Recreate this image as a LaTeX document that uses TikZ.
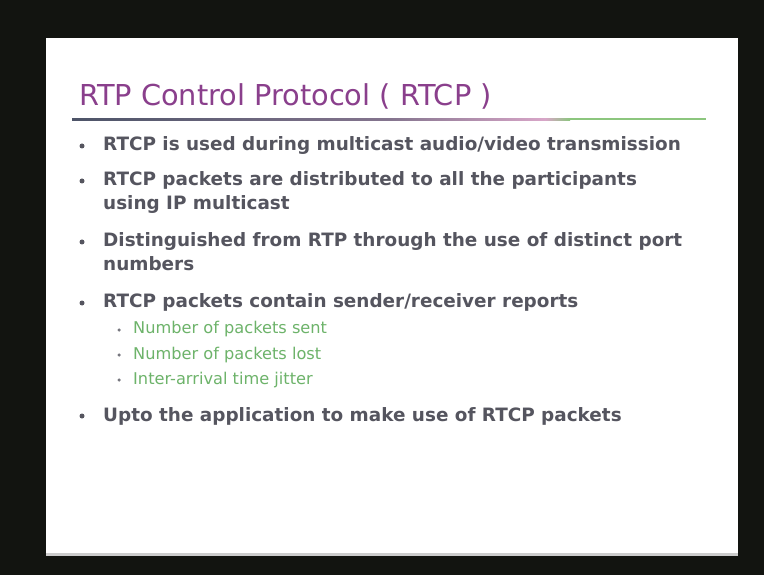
\documentclass[tikz,border=0pt]{standalone}
\usepackage{fontspec}
\setmainfont{DejaVu Sans}
\definecolor{bgdark}{HTML}{121410}
\definecolor{titlepurple}{HTML}{8A3F8C}
\definecolor{bodygray}{HTML}{55555F}
\definecolor{subgreen}{HTML}{6DB36A}
\definecolor{lineslate}{HTML}{4D5468}
\definecolor{linepink}{HTML}{D8A6C8}
\definecolor{linegreen}{HTML}{8CC67E}
\tikzset{
  titletext/.style={anchor=base west, inner sep=0pt, text=titlepurple, font=\fontsize{28.8}{34}\selectfont},
  bodytext/.style={anchor=base west, inner sep=0pt, text=bodygray, font=\bfseries\fontsize{18.4}{22}\selectfont},
  subtext/.style={anchor=base west, inner sep=0pt, text=subgreen, font=\fontsize{16.2}{19}\selectfont},
  mainbullet/.style={circle, fill=bodygray, inner sep=0pt, minimum size=5pt},
  subbullet/.style={circle, fill=bodygray!80, inner sep=0pt, minimum size=3.5pt},
}
\begin{document}
\begin{tikzpicture}[x=1pt,y=-1pt]
\useasboundingbox (0,0) rectangle (764,575);
\fill[bgdark] (0,0) rectangle (764,575);
\fill[white] (46,38) rectangle (738,555);
\fill[black!20] (46,553) rectangle (738,556);
% title
\node[titletext] (title) at (79,106) {RTP Control Protocol ( RTCP )};
\shade[left color=lineslate, right color=lineslate!60!linepink] (72,118.5) rectangle (390,120.5);
\shade[left color=lineslate!60!linepink, right color=linepink] (390,118.5) rectangle (545,120.5);
\shade[left color=linepink, right color=linegreen] (545,118.5) rectangle (570,120.5);
\fill[linegreen] (570,118.5) rectangle (706,120.5);
% bullets
\node[mainbullet] (b1) at (82,146) {};
\node[bodytext] (t1) at (103,151) {RTCP is used during multicast audio/video transmission};
\node[mainbullet] (b2) at (82,181) {};
\node[bodytext] (t2) at (103,186) {RTCP packets are distributed to all the participants};
\node[bodytext] (t2b) at (103,210) {using IP multicast};
\node[mainbullet] (b3) at (82,242) {};
\node[bodytext] (t3) at (103,247) {Distinguished from RTP through the use of distinct port};
\node[bodytext] (t3b) at (103,271) {numbers};
\node[mainbullet] (b4) at (82,303) {};
\node[bodytext] (t4) at (103,308) {RTCP packets contain sender/receiver reports};
\node[subbullet] (s1) at (119,330) {};
\node[subtext] (u1) at (133,334) {Number of packets sent};
\node[subbullet] (s2) at (119,355) {};
\node[subtext] (u2) at (133,359) {Number of packets lost};
\node[subbullet] (s3) at (119,380) {};
\node[subtext] (u3) at (133,384) {Inter-arrival time jitter};
\node[mainbullet] (b5) at (82,416) {};
\node[bodytext] (t5) at (103,421) {Upto the application to make use of RTCP packets};
\end{tikzpicture}
\end{document}
